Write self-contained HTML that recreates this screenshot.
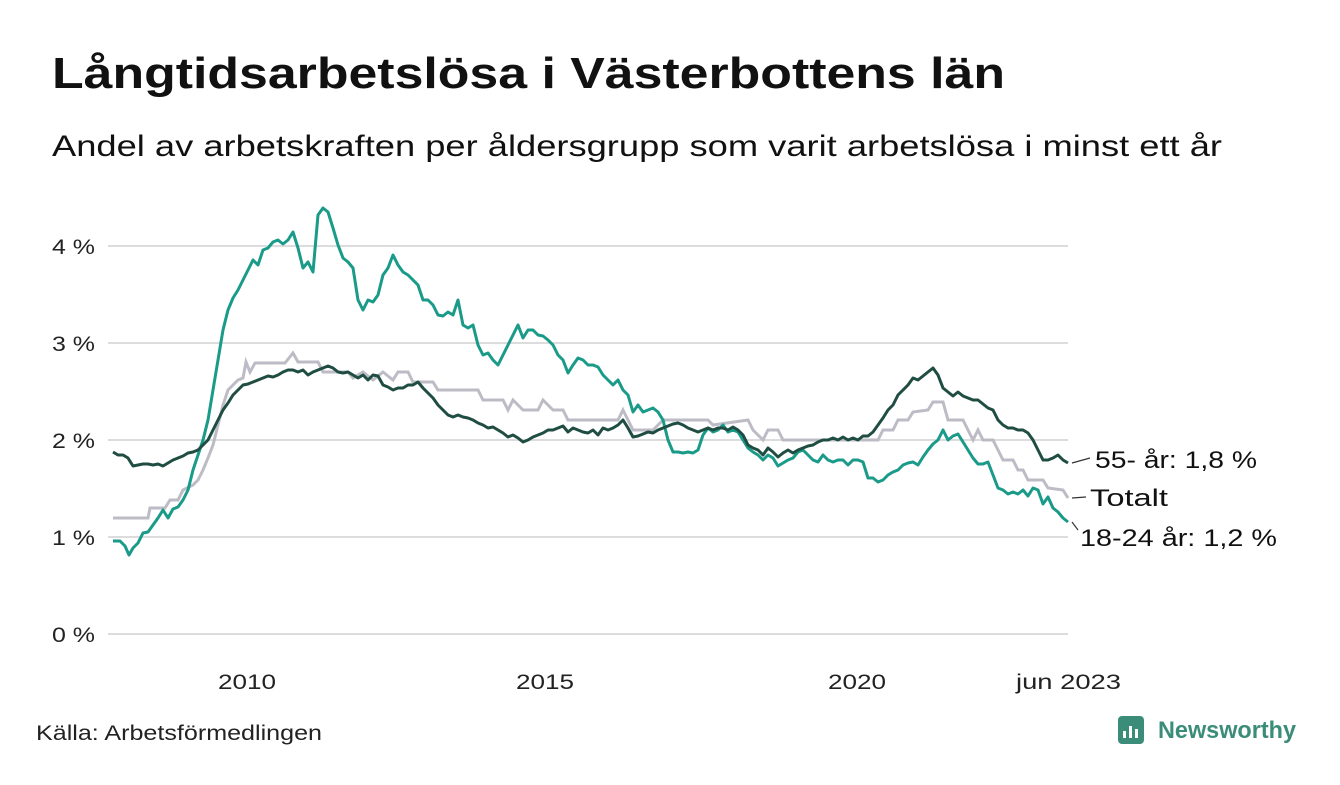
<!DOCTYPE html>
<html><head><meta charset="utf-8">
<style>
body{margin:0;background:#fff;}
svg text{font-family:"Liberation Sans",sans-serif;}
</style></head>
<body>
<svg width="1340" height="780" viewBox="0 0 1340 780" xmlns="http://www.w3.org/2000/svg">
<rect width="1340" height="780" fill="#fff"/>
<text x="52" y="88" font-size="44" font-weight="bold" fill="#111" textLength="953" lengthAdjust="spacingAndGlyphs">Långtidsarbetslösa i Västerbottens län</text>
<text x="52" y="156" font-size="30" fill="#111" textLength="1170" lengthAdjust="spacingAndGlyphs">Andel av arbetskraften per åldersgrupp som varit arbetslösa i minst ett år</text>
<g stroke="#dcdcdc" stroke-width="2">
<line x1="108" x2="1068" y1="246" y2="246"/>
<line x1="108" x2="1068" y1="343" y2="343"/>
<line x1="108" x2="1068" y1="440" y2="440"/>
<line x1="108" x2="1068" y1="537" y2="537"/>
<line x1="108" x2="1068" y1="634" y2="634"/>
</g>
<g font-size="21" fill="#222">
<text x="52" y="254" textLength="43" lengthAdjust="spacingAndGlyphs">4 %</text>
<text x="52" y="351" textLength="43" lengthAdjust="spacingAndGlyphs">3 %</text>
<text x="52" y="448" textLength="43" lengthAdjust="spacingAndGlyphs">2 %</text>
<text x="52" y="545" textLength="43" lengthAdjust="spacingAndGlyphs">1 %</text>
<text x="52" y="642" textLength="43" lengthAdjust="spacingAndGlyphs">0 %</text>
</g>
<g font-size="21" fill="#222">
<text x="218" y="689" textLength="58" lengthAdjust="spacingAndGlyphs">2010</text>
<text x="516" y="689" textLength="58" lengthAdjust="spacingAndGlyphs">2015</text>
<text x="828" y="689" textLength="58" lengthAdjust="spacingAndGlyphs">2020</text>
<text x="1016" y="689" textLength="105" lengthAdjust="spacingAndGlyphs">jun 2023</text>
</g>
<polyline fill="none" stroke="#bdbcc6" stroke-width="3" points="113,518 148,518 150,508 165,508 170,500 178,500 183,490 193,485 198,480 203,470 208,458 213,445 218,425 223,405 228,390 233,385 238,380 243,378 246,362 250,372 255,363 285,363 293,353 298,362 318,362 323,372 348,372 353,378 363,372 373,380 383,372 393,380 398,372 408,372 413,382 433,382 438,390 478,390 483,400 503,400 508,410 513,400 523,410 538,410 543,400 553,410 563,410 568,420 618,420 623,410 628,420 633,430 643,430 653,430 658,425 663,420 708,420 713,425 748,420 753,430 763,440 768,430 778,430 783,440 878,440 883,430 893,430 898,420 908,420 913,412 928,410 933,402 943,402 948,420 963,420 968,430 973,440 978,430 983,440 993,440 998,450 1003,460 1013,460 1018,470 1023,470 1028,480 1043,480 1048,488 1063,490 1068,498"/>
<polyline fill="none" stroke="#1a9a88" stroke-width="3" stroke-linejoin="round" points="113,541 120,541 125,546 129,555 133,548 138,543 143,533 148,532 153,525 158,518 163,510 168,518 173,509 178,507 183,500 188,490 193,470 198,455 203,440 208,420 213,390 218,360 223,330 228,310 233,298 238,290 243,280 248,270 253,260 258,265 263,250 268,248 273,242 278,240 283,244 288,240 293,232 298,248 303,268 308,262 313,272 318,215 323,208 328,212 333,228 338,245 343,258 348,262 353,268 358,300 363,310 368,300 373,302 378,295 383,275 388,268 393,255 398,265 403,272 408,275 413,280 418,285 423,300 428,300 433,305 438,315 443,316 448,312 453,315 458,300 463,325 468,328 473,325 478,345 483,355 488,353 493,360 498,365 503,355 508,345 513,335 518,325 523,338 528,330 533,330 538,335 543,336 548,340 553,345 558,355 563,360 568,373 573,365 578,358 583,360 588,365 593,365 598,367 603,375 608,380 613,385 618,380 623,390 628,395 633,412 638,405 643,412 648,410 653,408 658,412 663,420 668,440 673,452 678,452 683,453 688,452 693,453 698,450 703,435 708,428 713,432 718,430 723,425 728,432 733,430 738,432 743,440 748,448 753,452 758,455 763,460 768,455 773,458 778,466 783,463 788,460 793,458 798,452 803,450 808,455 813,460 818,462 823,455 828,460 833,462 838,460 843,460 848,465 853,460 858,460 863,462 868,478 873,478 878,482 883,480 888,475 893,472 898,470 903,465 908,463 913,462 918,465 923,457 928,450 933,444 938,440 943,430 948,440 953,436 958,434 963,442 968,450 973,458 978,464 983,464 988,462 993,475 998,488 1003,490 1008,494 1013,492 1018,494 1023,490 1028,496 1033,488 1038,490 1043,504 1048,497 1053,508 1058,512 1063,518 1068,522"/>
<polyline fill="none" stroke="#1f4d42" stroke-width="3" stroke-linejoin="round" points="113,452 118,455 123,455 128,458 133,466 138,465 143,464 148,464 153,465 158,464 163,466 168,463 173,460 178,458 183,456 188,453 193,452 198,450 203,445 208,440 213,430 218,420 223,410 228,403 233,395 238,390 243,385 248,384 253,382 258,380 263,378 268,376 273,377 278,375 283,372 288,370 293,370 298,372 303,370 308,375 313,372 318,370 323,368 328,366 333,368 338,372 343,373 348,372 353,375 358,378 363,375 368,380 373,375 378,376 383,385 388,387 393,390 398,388 403,388 408,385 413,385 418,382 423,388 428,393 433,398 438,405 443,410 448,415 453,417 458,415 463,417 468,418 473,420 478,423 483,425 488,428 493,427 498,430 503,433 508,437 513,435 518,438 523,442 528,440 533,437 538,435 543,433 548,430 553,430 558,428 563,426 568,432 573,428 578,430 583,432 588,433 593,430 598,435 603,428 608,430 613,428 618,425 623,420 628,428 633,437 638,436 643,434 648,432 653,433 658,430 663,428 668,426 673,424 678,423 683,425 688,428 693,430 698,432 703,430 708,428 713,430 718,428 723,428 728,430 733,427 738,430 743,435 748,445 753,448 758,450 763,455 768,448 773,452 778,457 783,453 788,450 793,453 798,450 803,448 808,446 813,445 818,442 823,440 828,440 833,438 838,440 843,437 848,440 853,438 858,440 863,436 868,436 873,432 878,425 883,418 888,410 893,405 898,395 903,390 908,385 913,378 918,380 923,376 928,372 933,368 938,375 943,388 948,392 953,396 958,392 963,396 968,398 973,400 978,400 983,404 988,408 993,410 998,420 1003,425 1008,428 1013,428 1018,430 1023,430 1028,433 1033,440 1038,450 1043,460 1048,460 1053,458 1058,455 1063,460 1068,463"/>
<g stroke="#333" stroke-width="1.2">
<line x1="1072" y1="463" x2="1090" y2="458"/>
<line x1="1072" y1="498" x2="1086" y2="497"/>
<line x1="1072" y1="522" x2="1078" y2="530"/>
</g>
<g font-size="24" fill="#111">
<text x="1095" y="468" textLength="162" lengthAdjust="spacingAndGlyphs">55- år: 1,8 %</text>
<text x="1090" y="506" textLength="78" lengthAdjust="spacingAndGlyphs">Totalt</text>
<text x="1080" y="546" textLength="197" lengthAdjust="spacingAndGlyphs">18-24 år: 1,2 %</text>
</g>
<text x="36" y="740" font-size="21" fill="#222" textLength="286" lengthAdjust="spacingAndGlyphs">Källa: Arbetsförmedlingen</text>
<g>
<rect x="1118" y="716" width="26" height="28" rx="4" fill="#3c8c7a"/>
<rect x="1123" y="731" width="3" height="7" fill="#fff"/>
<rect x="1129" y="726" width="3" height="12" fill="#fff"/>
<rect x="1135" y="729" width="3" height="9" fill="#fff"/>
<text x="1158" y="738" font-size="24" font-weight="bold" fill="#3c8c7a" textLength="138" lengthAdjust="spacingAndGlyphs">Newsworthy</text>
</g>
</svg>
</body></html>
